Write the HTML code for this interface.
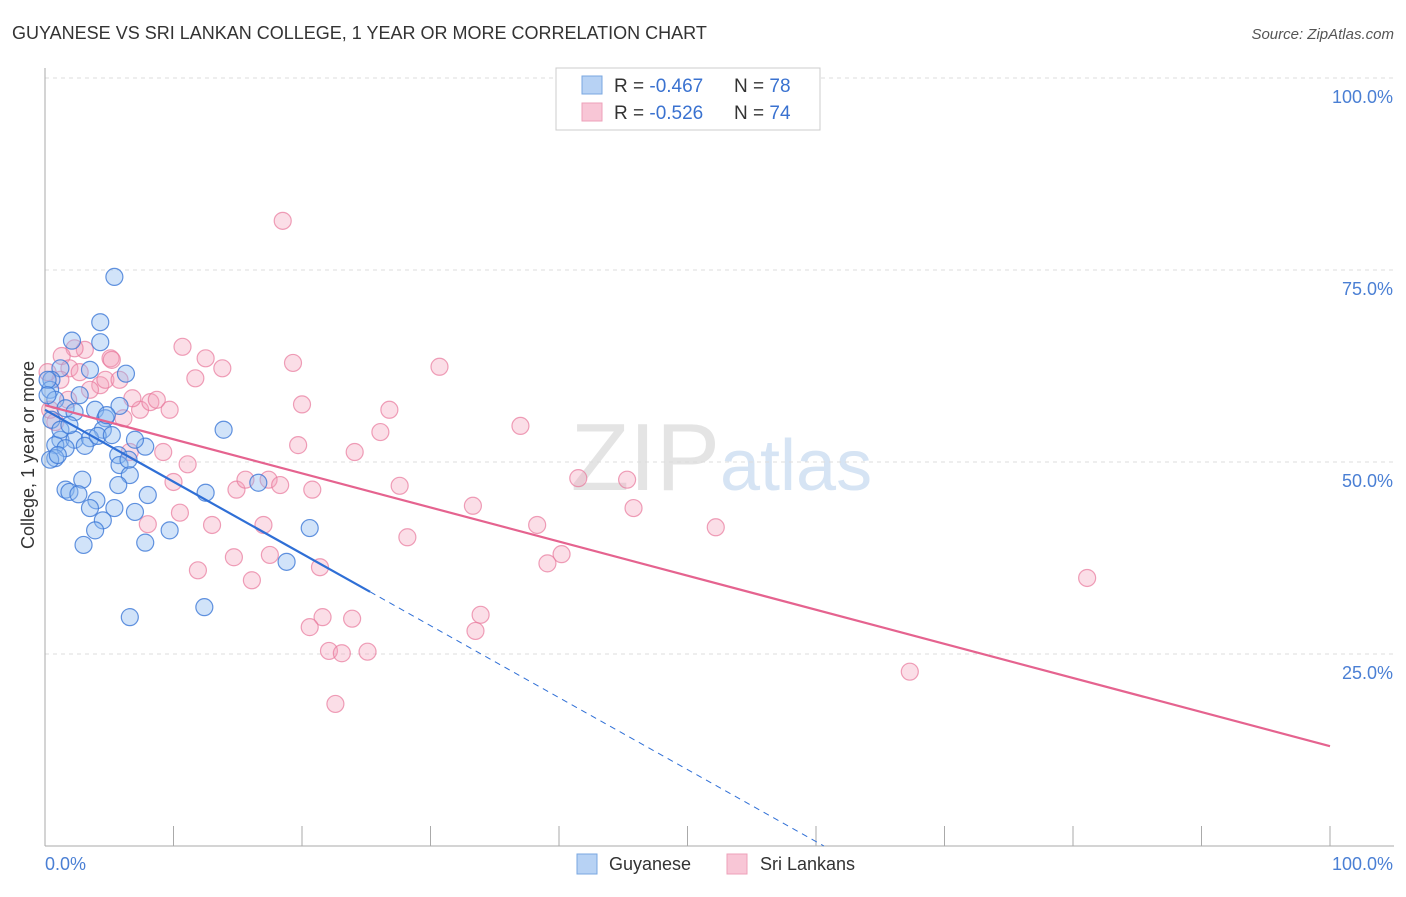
<!DOCTYPE html>
<html><head><meta charset="utf-8"><style>
body{margin:0;background:#fff;font-family:"Liberation Sans",sans-serif}
svg text{font-family:"Liberation Sans",sans-serif}
</style></head><body>
<svg id="c" width="1406" height="892">
<text x="12" y="39" font-size="18" fill="#333">GUYANESE VS SRI LANKAN COLLEGE, 1 YEAR OR MORE CORRELATION CHART</text>
<text x="1394" y="39" font-size="15" fill="#555" font-style="italic" text-anchor="end">Source: ZipAtlas.com</text>
<text x="720" y="490" font-size="96" fill="#e4e4e4" text-anchor="end" font-family="Liberation Serif">ZIP</text>
<text x="720" y="490" font-size="72" fill="#d6e4f4">atlas</text>
<g id="grid"></g><g id="pts"></g><g id="lines"></g>
<text transform="translate(34,455) rotate(-90)" font-size="18" fill="#333" text-anchor="middle">College, 1 year or more</text>
<text x="45" y="870" font-size="18" fill="#4a7fd4">0.0%</text>
<text x="1393" y="870" font-size="18" fill="#4a7fd4" text-anchor="end">100.0%</text>
<g>
<rect x="556" y="68" width="264" height="62" fill="#fff" stroke="#ccc"/>
<rect x="582" y="76" width="20" height="18" fill="#b7d2f4" stroke="#7aa7e0"/>
<rect x="582" y="103" width="20" height="18" fill="#f8c6d6" stroke="#eea0b9"/>
<text x="614" y="92" font-size="19" fill="#333">R = <tspan fill="#3a72d0">-0.467</tspan></text>
<text x="734" y="92" font-size="19" fill="#333">N = <tspan fill="#3a72d0">78</tspan></text>
<text x="614" y="119" font-size="19" fill="#333">R = <tspan fill="#3a72d0">-0.526</tspan></text>
<text x="734" y="119" font-size="19" fill="#333">N = <tspan fill="#3a72d0">74</tspan></text>
</g>
<g>
<rect x="577" y="854" width="20" height="20" fill="#b7d2f4" stroke="#7aa7e0"/>
<text x="609" y="870" font-size="18" fill="#333">Guyanese</text>
<rect x="727" y="854" width="20" height="20" fill="#f8c6d6" stroke="#eea0b9"/>
<text x="760" y="870" font-size="18" fill="#333">Sri Lankans</text>
</g>
</svg>
<script>
const yTicks=[25,50,75,100];
const xTicks=[0,10,20,30,40,50,60,70,80,90,100];
const blueX=[5.4,4.3,2.1,4.3,6.3,3.5,1.2,0.5,0.4,2.7,0.8,1.6,2.3,3.9,5.8,4.7,0.5,4.5,1.2,2.3,3.5,0.8,1.6,3.1,4.1,7.8,5.7,5.8,0.8,6.6,5.7,2.9,1.6,1.9,2.6,8.0,4.0,12.5,13.9,16.6,3.5,5.4,4.5,3.9,7.0,9.7,3.0,7.8,20.6,18.8,12.4,6.6,0.2,0.2,1.2,1.9,0.4,1.0,4.8,5.2,7.0,6.5];
const blueY=[74.1,68.2,65.8,65.6,61.5,62.0,62.2,60.7,59.4,58.7,58.1,57.0,56.5,56.8,57.3,55.7,55.5,54.2,52.9,52.9,53.1,52.2,51.8,52.1,53.4,52.0,50.9,49.6,50.5,48.3,47.0,47.7,46.4,46.1,45.8,45.7,45.0,46.0,54.2,47.3,44.0,44.0,42.4,41.1,43.5,41.1,39.2,39.5,41.4,37.0,31.1,29.8,60.7,58.7,54.2,54.8,50.3,50.9,56.1,53.5,52.9,50.3];
const pinkX=[18.5,10.7,12.5,11.7,13.8,19.3,30.7,20.0,26.8,37.0,26.1,24.1,19.7,11.1,9.2,10.0,10.5,13.0,14.9,15.6,17.4,18.3,20.8,27.6,33.3,41.5,45.3,45.8,52.2,38.3,39.1,40.2,28.2,17.0,17.5,14.7,11.9,16.1,21.4,21.6,23.9,20.6,33.9,33.5,22.1,23.1,25.1,22.6,67.3,81.1,8.0,6.6,7.4,8.2,8.7,9.7,6.1,6.8,5.1,3.1,2.3,1.3,1.9,1.2,1.8,4.3,4.7,5.8,5.2,0.4,0.8,2.7,0.2,3.5];
const pinkY=[81.4,65.0,63.5,60.9,62.2,62.9,62.4,57.5,56.8,54.7,53.9,51.3,52.2,49.7,51.3,47.4,43.4,41.8,46.4,47.7,47.7,47.0,46.4,46.9,44.3,47.9,47.7,44.0,41.5,41.8,36.8,38.0,40.2,41.8,37.9,37.6,35.9,34.6,36.3,29.8,29.6,28.5,30.1,28.0,25.4,25.1,25.3,18.5,22.7,34.9,41.9,51.3,56.8,57.8,58.1,56.8,55.7,58.3,63.5,64.6,64.8,63.8,62.2,60.7,58.1,60.0,60.7,60.7,63.3,56.8,55.2,61.7,61.7,59.4];
const blueTrend=[56.8,-0.937]; const blueSolidEnd=25.3;
const pinkTrend=[57.4,-0.444];
const NS='http://www.w3.org/2000/svg';
const X=v=>45+v*12.85, Y=v=>846-v*7.68;
function mk(t,a,p){const e=document.createElementNS(NS,t);for(const k in a)e.setAttribute(k,a[k]);p.appendChild(e);return e;}
const g=document.getElementById('grid');
yTicks.forEach(t=>{
 const l=mk('line',{x1:45,x2:1394,y1:Y(t),y2:Y(t),stroke:'#ddd','stroke-dasharray':'4,4'},g);
 
 
 const tx=mk('text',{x:1393,y:Y(t)+25,'font-size':18,fill:'#4a7fd4','text-anchor':'end'},g);
 tx.textContent=t.toFixed(1)+'%';
 
 
});
const ax=mk('line',{x1:45,x2:45,y1:68,y2:846,stroke:'#aaa'},g);


const bx=mk('line',{x1:45,x2:1394,y1:846,y2:846,stroke:'#aaa'},g);


xTicks.forEach(t=>{
 const l=mk('line',{x1:X(t),x2:X(t),y1:826,y2:846,stroke:'#aaa'},g);
 
 
});
const p=document.getElementById('pts');
pinkX.forEach((v,i)=>{
 const c=mk('circle',{cx:X(v),cy:Y(pinkY[i]),r:8.5,fill:'rgba(244,160,186,0.35)',stroke:'rgba(232,120,155,0.7)','stroke-width':1.2},p);
 
 
});
blueX.forEach((v,i)=>{
 const c=mk('circle',{cx:X(v),cy:Y(blueY[i]),r:8.5,fill:'rgba(140,185,240,0.4)',stroke:'rgba(60,120,215,0.8)','stroke-width':1.2},p);
 
 
});
const L=document.getElementById('lines');
const bz=-blueTrend[0]/blueTrend[1];
const b1=mk('line',{x1:X(0),y1:Y(blueTrend[0]),x2:X(blueSolidEnd),y2:Y(blueTrend[0]+blueTrend[1]*blueSolidEnd),stroke:'#2f6fd6','stroke-width':2.2},L);


const b2=mk('line',{x1:X(blueSolidEnd),y1:Y(blueTrend[0]+blueTrend[1]*blueSolidEnd),x2:X(bz),y2:Y(0),stroke:'#2f6fd6','stroke-width':1,'stroke-dasharray':'6,5'},L);


const p1=mk('line',{x1:X(0),y1:Y(pinkTrend[0]),x2:X(100),y2:Y(pinkTrend[0]+pinkTrend[1]*100),stroke:'#e5638f','stroke-width':2.2},L);


</script>
</body></html>
